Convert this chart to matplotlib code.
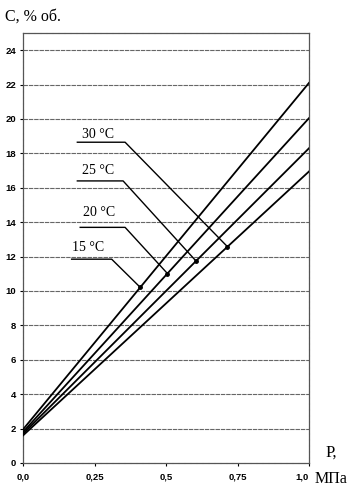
import numpy as np
import matplotlib.pyplot as plt

# pressure, MPa
p = [0.0, 1.0]
temps = ["15 °C", "20 °C", "25 °C", "30 °C"]
# concentration, % vol, at P = 0 and P = 1.0
c_start = [1.95, 1.8, 1.7, 1.6]
c_end = [22.1, 20.05, 18.3, 16.95]

# where the leader of each label touches its line (P value)
mark_p = [0.41, 0.505, 0.605, 0.715]
# label text and leader shelf positions
label_xy = [(0.171, 12.15), (0.21, 14.2), (0.206, 16.65), (0.206, 18.75)]
shelf_x = [(0.17, 0.31), (0.2, 0.357), (0.19, 0.35), (0.19, 0.357)]
shelf_y = [11.85, 13.7, 16.4, 18.65]

yticks = np.arange(0, 25, 2)
xticks = [0.0, 0.25, 0.5, 0.75, 1.0]
xlabels = ["0,0", "0,25", "0,5", "0,75", "1,0"]

fig = plt.figure(figsize=(3.55, 4.87), dpi=100)
ax = fig.add_axes([23 / 355, 24 / 487, 286 / 355, 430 / 487])

for y in yticks[1:]:
    ax.axhline(y, color="#666666", lw=0.8, ls=(0, (4, 0.8)), zorder=1)

for i in range(len(temps)):
    ax.plot(p, [c_start[i], c_end[i]], color="black", lw=1.3, zorder=3)
    mp = mark_p[i]
    mc = c_start[i] + (c_end[i] - c_start[i]) * mp
    ax.plot([shelf_x[i][0], shelf_x[i][1], mp], [shelf_y[i], shelf_y[i], mc],
            color="black", lw=1.0, zorder=3)
    ax.plot(mp, mc, "o", color="black", ms=2.5, zorder=4)
    ax.text(label_xy[i][0], label_xy[i][1], temps[i], family="Liberation Serif",
            fontsize=10, ha="left", va="bottom")

ax.set_xlim(0, 1.0)
ax.set_ylim(0, 25)
ax.set_yticks(yticks)
ax.set_yticklabels([str(v) for v in yticks], fontsize=6.8, fontweight="bold",
                   family="Liberation Sans")
ax.set_xticks(xticks)
ax.set_xticklabels(xlabels, fontsize=6.8, fontweight="bold", family="Liberation Sans")
ax.get_xticklabels()[-1].set_ha("right")
ax.tick_params(length=2, width=0.8, pad=3)
ax.tick_params(axis="x", pad=5)
for s in ax.spines.values():
    s.set_color("#555555")
    s.set_linestyle((0, (4, 0.8)))
    s.set_linewidth(0.9)

fig.text(5 / 355, 1 - 17 / 487, "С, % об.", family="Liberation Serif", fontsize=11.5,
         ha="left", va="center")
fig.text(331 / 355, 1 - 453 / 487, "P,", family="Liberation Serif", fontsize=12,
         ha="center", va="center")
fig.text(315 / 355, 1 - 479 / 487, "МПа", family="Liberation Serif", fontsize=11.5,
         ha="left", va="center")

fig.savefig("out.png", dpi=100)
